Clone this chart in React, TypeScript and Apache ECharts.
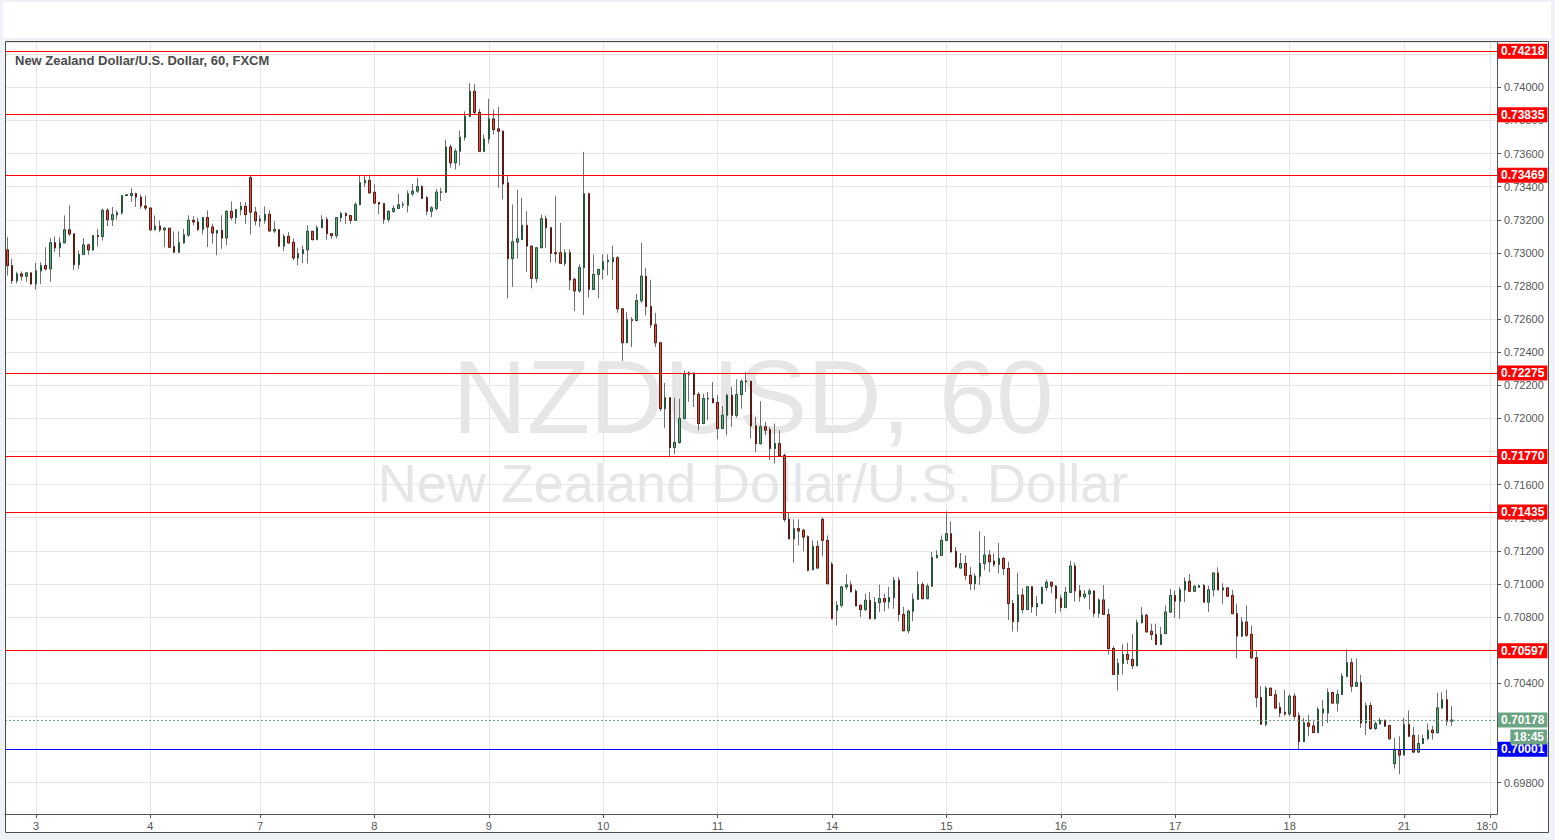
import React, { useEffect, useRef } from 'react';
import * as echarts from 'echarts';

// Hourly NZD/USD candles, each [open, close, low, high], grouped by trading day
const pre3 = [
  [0.73018,0.72923,0.72863,0.73095],[0.72923,0.72832,0.72812,0.72964],[0.72832,0.72873,0.72816,0.72887],
  [0.72873,0.72859,0.72832,0.72887],[0.72859,0.72879,0.72826,0.72883],[0.72879,0.72812,0.7281,0.72883],
];
const day3 = [
  [0.72812,0.72891,0.72778,0.72939],[0.72891,0.72923,0.72812,0.72943],[0.72923,0.72903,0.72893,0.73034],
  [0.72903,0.73061,0.72826,0.73089],[0.73061,0.7303,0.73004,0.73101],[0.7303,0.73061,0.72974,0.73095],
  [0.73061,0.73139,0.73061,0.73226],[0.73139,0.73115,0.73101,0.73287],[0.73115,0.72929,0.72897,0.73115],
  [0.72929,0.7299,0.72903,0.73014],[0.7299,0.73048,0.72988,0.73089],[0.73048,0.73018,0.72988,0.73055],
  [0.73018,0.73105,0.73014,0.73105],[0.73105,0.73099,0.73038,0.73145],[0.73099,0.73257,0.73075,0.73267],
  [0.73257,0.732,0.73162,0.73271],[0.732,0.7323,0.73162,0.73277],[0.7323,0.73242,0.73202,0.73257],
  [0.73242,0.73347,0.7323,0.73347],[0.73347,0.73351,0.73343,0.73355],[0.73347,0.73358,0.73307,0.73392],
  [0.73358,0.73337,0.73277,0.73364],[0.73337,0.73283,0.73267,0.73351],[0.73283,0.73271,0.73257,0.73347],
];
const day4 = [
  [0.73271,0.73139,0.73139,0.73271],[0.73139,0.73162,0.73139,0.73226],[0.73162,0.73139,0.73125,0.73196],
  [0.73139,0.73149,0.73034,0.73156],[0.73149,0.73034,0.73034,0.73149],[0.73038,0.73004,0.73,0.73129],
  [0.73004,0.73061,0.73004,0.73129],[0.73061,0.73109,0.73055,0.73145],[0.73108,0.73197,0.73096,0.73227],
  [0.73197,0.73187,0.73166,0.73221],[0.73187,0.73142,0.73132,0.73213],[0.73142,0.73213,0.73112,0.73217],
  [0.73213,0.73156,0.73035,0.73257],[0.73156,0.7312,0.73056,0.73176],[0.7312,0.73136,0.72985,0.73136],
  [0.73136,0.7309,0.73025,0.73227],[0.7309,0.73251,0.73046,0.73257],[0.73251,0.73213,0.73197,0.73311],
  [0.73213,0.73261,0.73176,0.73261],[0.73261,0.73281,0.73227,0.73307],[0.73281,0.73231,0.73176,0.73307],
  [0.73454,0.73246,0.73112,0.73466],[0.73246,0.73193,0.73166,0.73277],
];
const day7 = [
  [0.73193,0.73203,0.73156,0.73227],[0.73197,0.73233,0.73176,0.73281],[0.73233,0.73132,0.73132,0.73257],
  [0.73132,0.73142,0.7312,0.73191],[0.7314,0.73041,0.73035,0.7314],[0.73041,0.731,0.73011,0.73112],
  [0.731,0.7306,0.73056,0.73126],[0.73064,0.72969,0.72955,0.73086],[0.72969,0.72995,0.72925,0.73031],
  [0.72995,0.73019,0.72939,0.73045],[0.73019,0.7313,0.72935,0.73166],[0.7313,0.7308,0.73076,0.7313],
  [0.7308,0.73152,0.7308,0.73166],[0.73152,0.73201,0.73152,0.73227],[0.73201,0.73116,0.7308,0.73217],
  [0.73116,0.73104,0.73086,0.73116],[0.73104,0.73213,0.73088,0.73217],[0.73213,0.73237,0.73187,0.73247],
  [0.73237,0.73225,0.73176,0.73247],[0.73225,0.73197,0.73176,0.73225],[0.73197,0.73291,0.73197,0.73307],
  [0.73291,0.73424,0.73291,0.73472],[0.73424,0.73438,0.73398,0.73472],[0.73438,0.73362,0.73362,0.73472],
];
const day8 = [
  [0.73366,0.73301,0.73297,0.73414],[0.73305,0.73295,0.73233,0.73305],[0.73297,0.73203,0.73176,0.73297],
  [0.73203,0.73251,0.73187,0.73257],[0.73251,0.73269,0.73241,0.73287],[0.73269,0.7329,0.73267,0.73357],
  [0.7329,0.73292,0.73272,0.73309],[0.73288,0.73357,0.73244,0.73377],[0.73357,0.73373,0.73343,0.73417],
  [0.73373,0.734,0.73363,0.73453],[0.734,0.73329,0.73329,0.73409],[0.73333,0.73252,0.73228,0.73343],
  [0.73252,0.73272,0.73216,0.73282],[0.73268,0.73367,0.73256,0.73387],[0.73365,0.73369,0.73313,0.73393],
  [0.73367,0.7364,0.73363,0.73684],[0.7364,0.73544,0.73514,0.73654],[0.73544,0.73614,0.73504,0.7363],
  [0.73614,0.73698,0.73528,0.73739],[0.73698,0.73825,0.73678,0.73855],[0.73825,0.73976,0.73819,0.74026],
  [0.73976,0.73849,0.73839,0.7402],[0.73849,0.73614,0.73614,0.73869],[0.73614,0.73688,0.73614,0.73715],
];
const day9 = [
  [0.73688,0.73809,0.7366,0.7393],[0.73809,0.73745,0.73715,0.73865],[0.73749,0.73735,0.73393,0.73881],
  [0.73735,0.73417,0.73323,0.73739],[0.73423,0.72965,0.72724,0.7347],[0.72965,0.73067,0.72794,0.73292],
  [0.73065,0.73085,0.72965,0.73381],[0.73081,0.73166,0.73077,0.73333],[0.73166,0.73041,0.72884,0.73252],
  [0.73041,0.72846,0.72786,0.73041],[0.72846,0.73031,0.7282,0.73031],[0.73031,0.73206,0.73031,0.73232],
  [0.73206,0.73152,0.73031,0.73226],[0.73152,0.72997,0.72941,0.73152],[0.73001,0.72995,0.72941,0.73343],
  [0.73001,0.72937,0.72937,0.73181],[0.72937,0.73001,0.72921,0.73021],[0.73001,0.72836,0.72776,0.73021],
  [0.7284,0.7277,0.72649,0.7285],[0.7277,0.72911,0.7276,0.72931],[0.72911,0.73357,0.72625,0.7361],
  [0.73357,0.7278,0.7273,0.73363],[0.7278,0.7287,0.72774,0.72991],[0.7287,0.729,0.72725,0.729],
];
const day10 = [
  [0.729,0.72947,0.7284,0.72991],[0.72947,0.72955,0.72865,0.72991],[0.72947,0.7297,0.72837,0.73044],
  [0.7297,0.72662,0.72638,0.7298],[0.72662,0.72457,0.72347,0.72662],[0.72457,0.72596,0.72457,0.72642],
  [0.72596,0.72592,0.72431,0.72612],[0.72592,0.72711,0.72586,0.72753],[0.72711,0.72859,0.72697,0.7306],
  [0.72859,0.72676,0.72622,0.72909],[0.72676,0.72566,0.72546,0.72837],[0.72566,0.72457,0.72431,0.72638],
  [0.72457,0.72059,0.72043,0.72457],[0.72059,0.72125,0.71943,0.72214],[0.72125,0.71824,0.71764,0.72125],
  [0.71824,0.71854,0.71784,0.72125],[0.71854,0.72,0.71848,0.72119],[0.72,0.72264,0.71994,0.7229],
  [0.72264,0.72274,0.721,0.72284],[0.72274,0.72144,0.72069,0.72274],[0.72144,0.71969,0.71929,0.7216],
  [0.71969,0.7212,0.71965,0.7215],[0.72118,0.72122,0.71989,0.7216],[0.7212,0.72096,0.7209,0.7222],
];
const day11 = [
  [0.72096,0.71939,0.71874,0.7214],[0.71939,0.72019,0.71935,0.72075],[0.72019,0.7214,0.71898,0.7215],
  [0.7214,0.72019,0.71949,0.7219],[0.72019,0.72144,0.72005,0.72236],[0.72144,0.72224,0.72059,0.72236],
  [0.72226,0.72222,0.7216,0.7228],[0.72224,0.71955,0.71878,0.72224],[0.71955,0.71848,0.71798,0.72009],
  [0.71848,0.71949,0.71842,0.72104],[0.71949,0.71929,0.71899,0.71979],[0.71933,0.71818,0.71748,0.71949],
  [0.71818,0.71848,0.71728,0.71969],[0.71848,0.71774,0.71768,0.71929],[0.71776,0.7139,0.71374,0.71786],
  [0.7139,0.71273,0.71269,0.71434],[0.71273,0.71334,0.71129,0.7139],[0.71334,0.7132,0.71233,0.7139],
  [0.71324,0.71283,0.71197,0.71334],[0.71287,0.71082,0.71076,0.71293],[0.71086,0.71227,0.71082,0.71263],
  [0.71227,0.71096,0.71092,0.71263],[0.7139,0.71263,0.71167,0.71404],[0.71263,0.71002,0.70996,0.71293],
];
const day14 = [
  [0.71119,0.7079,0.70786,0.71133],[0.70841,0.70871,0.7075,0.70897],[0.70871,0.70982,0.70857,0.70988],
  [0.70982,0.70994,0.70966,0.71058],[0.70994,0.70952,0.70952,0.71018],[0.70956,0.70867,0.70867,0.70968],
  [0.70871,0.70845,0.70801,0.70875],[0.70845,0.70901,0.70837,0.70942],[0.70901,0.7079,0.70786,0.70952],
  [0.7079,0.70887,0.70786,0.70921],[0.70887,0.70911,0.70831,0.70996],[0.70911,0.70891,0.70835,0.70942],
  [0.70891,0.70917,0.70851,0.70982],[0.70917,0.71022,0.70851,0.71042],[0.71022,0.70815,0.70775,0.71042],
  [0.70815,0.70717,0.70717,0.70861],[0.70717,0.70835,0.70701,0.70845],[0.70835,0.70907,0.70775,0.70942],
  [0.70907,0.70996,0.70901,0.71076],[0.70996,0.70911,0.70907,0.71012],[0.70911,0.70986,0.70907,0.71002],
  [0.70986,0.71159,0.70982,0.71193],[0.71159,0.71173,0.71153,0.71203],[0.71173,0.71263,0.71169,0.71293],
];
const day15 = [
  [0.71263,0.71303,0.71263,0.71438],[0.71303,0.71193,0.71193,0.71378],[0.71197,0.71103,0.71096,0.71223],
  [0.71096,0.71123,0.71092,0.71187],[0.71123,0.71052,0.71022,0.71173],[0.71052,0.71002,0.70962,0.71103],
  [0.71002,0.71047,0.70963,0.71063],[0.71047,0.71124,0.70993,0.71319],[0.71124,0.71174,0.71083,0.71289],
  [0.71174,0.71134,0.7107,0.71204],[0.71138,0.71118,0.71104,0.71184],[0.71118,0.71154,0.71063,0.71248],
  [0.71154,0.71093,0.71053,0.71164],[0.71093,0.70882,0.70782,0.71134],[0.70882,0.70772,0.70712,0.70903],
  [0.70772,0.70933,0.70712,0.71067],[0.70933,0.70846,0.70822,0.70973],[0.70846,0.70983,0.70842,0.70987],
  [0.70983,0.70862,0.70826,0.70987],[0.70862,0.70882,0.70806,0.70927],[0.70882,0.70979,0.70878,0.70983],
  [0.70979,0.7101,0.70959,0.71027],[0.7101,0.70987,0.70943,0.71014],[0.70987,0.70913,0.70822,0.70993],
];
const day16 = [
  [0.70913,0.70858,0.70832,0.70933],[0.70858,0.70949,0.70852,0.70983],[0.70949,0.71108,0.70947,0.7114],
  [0.71108,0.70959,0.70893,0.71128],[0.70959,0.70923,0.70893,0.70993],[0.70923,0.70939,0.70909,0.70963],
  [0.70939,0.70957,0.70846,0.70973],[0.70957,0.70822,0.708,0.70963],[0.70822,0.70903,0.70796,0.70913],
  [0.70903,0.70816,0.70812,0.70993],[0.70814,0.7061,0.70574,0.7085],[0.7061,0.70454,0.7045,0.70624],
  [0.70454,0.7052,0.70356,0.7055],[0.7052,0.70574,0.70454,0.70636],[0.70574,0.70544,0.70516,0.70644],
  [0.70544,0.70506,0.70486,0.70696],[0.70506,0.70766,0.70502,0.70784],[0.70766,0.7081,0.7076,0.7086],
  [0.7081,0.7071,0.70706,0.7082],[0.70714,0.70694,0.7066,0.7076],[0.70694,0.70634,0.7063,0.7076],
  [0.70634,0.70694,0.7063,0.7074],[0.707,0.7083,0.707,0.7087],[0.7083,0.7093,0.70826,0.7097],
];
const day17 = [
  [0.7093,0.70896,0.70796,0.7096],[0.70896,0.70964,0.7079,0.7098],[0.70964,0.71016,0.7089,0.7104],
  [0.71016,0.70956,0.70956,0.7106],[0.70956,0.70984,0.70956,0.70996],[0.7098,0.7099,0.7098,0.70996],
  [0.7099,0.7089,0.7089,0.71],[0.7089,0.70964,0.7083,0.7099],[0.70964,0.71066,0.70924,0.71066],
  [0.71066,0.70964,0.7096,0.711],[0.70964,0.70976,0.7088,0.71004],[0.70976,0.70926,0.7092,0.70976],
  [0.7093,0.7082,0.7082,0.70964],[0.7082,0.70685,0.7055,0.7088],[0.70685,0.7077,0.7068,0.708],
  [0.7077,0.7069,0.7068,0.7087],[0.70696,0.70553,0.70553,0.7075],[0.70555,0.70314,0.70254,0.706],
  [0.70314,0.70152,0.70152,0.70382],[0.70152,0.7037,0.70138,0.70382],[0.7037,0.70326,0.70322,0.7037],
  [0.7033,0.7025,0.7025,0.7036],[0.70254,0.7022,0.70194,0.70284],[0.70224,0.70214,0.70204,0.7036],
];
const day18 = [
  [0.70214,0.70322,0.702,0.70334],[0.70322,0.702,0.7018,0.7034],[0.70204,0.70048,0.70001,0.70224],
  [0.70048,0.7016,0.70044,0.7019],[0.7016,0.7014,0.7008,0.7021],[0.70142,0.70102,0.70102,0.7018],
  [0.70102,0.70242,0.701,0.70258],[0.7022,0.70244,0.7014,0.703],[0.7022,0.70344,0.7016,0.70368],
  [0.70344,0.7028,0.7028,0.7035],[0.7028,0.70332,0.7023,0.7036],[0.70332,0.70442,0.70328,0.7046],
  [0.70442,0.70524,0.70434,0.70604],[0.70524,0.70382,0.70348,0.7055],[0.70382,0.70404,0.70382,0.7055],
  [0.70404,0.7016,0.7013,0.7045],[0.70161,0.70265,0.70087,0.70285],[0.70265,0.70127,0.70117,0.70285],
  [0.70127,0.70155,0.70117,0.70171],[0.70155,0.70175,0.70149,0.70191],[0.70175,0.70141,0.70135,0.70181],
  [0.70145,0.70064,0.70064,0.70145],[0.69914,0.69994,0.69884,0.7007],[0.69994,0.69966,0.6985,0.7008],
];
const day21 = [
  [0.69966,0.70151,0.69966,0.70191],[0.70151,0.7008,0.70076,0.70235],[0.70084,0.69984,0.69984,0.70137],
  [0.69984,0.70036,0.6998,0.7009],[0.70036,0.70066,0.70032,0.7009],[0.70066,0.70115,0.70056,0.70157],
  [0.70117,0.70101,0.7006,0.70143],[0.70101,0.70251,0.70101,0.70342],[0.70251,0.703,0.70245,0.70346],
  [0.703,0.70171,0.70145,0.70362],[0.70171,0.70178,0.70141,0.70261],
];

const dayLabels = ['2', '3', '4', '7', '8', '9', '10', '11', '14', '15', '16', '17', '18', '21'];
const firstHours = [18, 0, 0, 0, 0, 0, 0, 0, 0, 0, 0, 0, 0, 0];
const futureHours = 9; // empty hourly slots after the last candle
const endTimeLabel = '21 18:00';

const redLevels = [0.74218, 0.73835, 0.73469, 0.72275, 0.7177, 0.71435, 0.70597];
const blueLevels = [0.70001];
const lastPrice = 0.70178;
const countdownText = '18:45';
const titleText = 'New Zealand Dollar/U.S. Dollar, 60, FXCM';
const watermarkSymbol = 'NZDUSD, 60';
const watermarkName = 'New Zealand Dollar/U.S. Dollar';

const FONT = '"Liberation Sans", Arial, sans-serif';
const UP = '#6ba583';
const DOWN = '#d75442';

export default function App() {
  const ref = useRef<HTMLDivElement>(null);

  useEffect(() => {
    document.body.style.margin = '0';
    if (!ref.current) return;
    const chart = echarts.init(ref.current, undefined, { renderer: 'svg' });

    const sessions = [pre3, day3, day4, day7, day8, day9, day10, day11, day14, day15, day16, day17, day18, day21];
    const categories: string[] = [];
    const candles: number[][] = [];
    sessions.forEach((bars, d) => {
      const n = d === sessions.length - 1 ? bars.length + futureHours : bars.length;
      for (let i = 0; i < n; i++) {
        const h = firstHours[d] + i;
        categories.push(`${dayLabels[d]} ${String(h).padStart(2, '0')}:00`);
      }
      bars.forEach((b) => candles.push(b));
    });
    const bodies = candles.map(([o, c]) => [o, c, Math.min(o, c), Math.max(o, c)]);
    const tickSet = new Set(categories.filter((c) => c.endsWith(' 00:00') || c === endTimeLabel));
    const isTick = (i: number) => tickSet.has(categories[i]);
    const tagValues = [...redLevels, ...blueLevels, lastPrice];
    // axis labels that sit fully under a price tag are hidden, as on the original
    const coveredByTag = (v: number) => tagValues.some((t) => Math.abs(t - v) <= 0.00031);

    const tag = (bg: string) => ({
      show: true,
      position: 'end',
      distance: 1,
      formatter: (p: any) => Number(p.value).toFixed(5),
      color: '#fff',
      backgroundColor: bg,
      padding: [2, 3, 1, 3],
      fontSize: 12,
      lineHeight: 12,
      fontWeight: 'bold',
      fontFamily: FONT,
    });

    const option: any = {
      animation: false,
      backgroundColor: '#eff2f6',
      grid: { left: 5, right: 58, top: 42, bottom: 26, containLabel: false },
      xAxis: {
        type: 'category',
        data: categories,
        boundaryGap: true,
        axisLine: { lineStyle: { color: '#555' } },
        axisTick: { show: true, alignWithLabel: true, interval: isTick, length: 4, lineStyle: { color: '#555' } },
        axisLabel: {
          interval: isTick,
          color: '#555',
          fontSize: 11,
          fontFamily: FONT,
          margin: 6,
          formatter: (v: string) => (v === endTimeLabel ? '{e|18:0}' : v.split(' ')[0]),
          rich: { e: { color: '#555', fontSize: 11, fontFamily: FONT, padding: [0, 6, 0, 0] } },
        },
        splitLine: { show: false },
      },
      yAxis: {
        type: 'value',
        position: 'right',
        min: 0.6961,
        max: 0.74274,
        splitNumber: 23,
        scale: true,
        axisLine: { show: true, lineStyle: { color: '#555' } },
        axisTick: { show: true, length: 4, lineStyle: { color: '#555' } },
        axisLabel: {
          color: '#555',
          fontSize: 11,
          fontFamily: FONT,
          margin: 7,
          showMinLabel: false,
          showMaxLabel: false,
          formatter: (v: number) => (coveredByTag(v) ? '' : v.toFixed(5)),
        },
        splitLine: { show: true, lineStyle: { color: '#e6e6e6', width: 1 } },
      },
      series: [
        {
          type: 'candlestick',
          name: 'wicks',
          data: candles,
          barWidth: 2,
          silent: true,
          itemStyle: { color: '#707070', color0: '#707070', borderColor: '#707070', borderColor0: '#707070', borderWidth: 1 },
          markLine: {
            silent: true,
            symbol: 'none',
            z: 1,
            label: { show: false },
            lineStyle: { color: '#e6e6e6', width: 1, type: 'solid' },
            data: categories.filter((c) => tickSet.has(c)).map((c) => ({ xAxis: c })),
          },
        },
        {
          type: 'candlestick',
          name: 'NZDUSD',
          data: bodies,
          barWidth: 2,
          silent: true,
          itemStyle: { color: UP, color0: DOWN, borderColor: '#225437', borderColor0: '#5b1a13', borderWidth: 1 },
          markLine: {
            silent: true,
            symbol: 'none',
            precision: 5,
            data: [
              ...redLevels.map((v) => ({ yAxis: v, lineStyle: { color: '#ff0000', width: 1, type: 'solid' }, label: tag('#ff0000') })),
              ...blueLevels.map((v) => ({ yAxis: v, lineStyle: { color: '#0000ff', width: 1, type: 'solid' }, label: tag('#0000ff') })),
              { yAxis: lastPrice, lineStyle: { color: UP, width: 1, type: [2, 2] }, label: tag(UP) },
            ],
          },
        },
      ],
      graphic: [
        { type: 'rect', z: -20, silent: true, shape: { x: 3, y: 2, width: 1548, height: 36 }, style: { fill: '#ffffff' } },
        { type: 'rect', z: -20, silent: true, shape: { x: 5, y: 41, width: 1544, height: 792 }, style: { fill: '#ffffff' } },
        {
          type: 'text', z: -10, silent: true,
          style: { text: watermarkSymbol, x: 753, y: 397, align: 'center', verticalAlign: 'middle', fill: '#e6e6e6', font: `103px ${FONT}` },
        },
        {
          type: 'text', z: -10, silent: true,
          style: { text: watermarkName, x: 753, y: 483, align: 'center', verticalAlign: 'middle', fill: '#e6e6e6', font: `54px ${FONT}` },
        },
        {
          type: 'text', z: 20, silent: true,
          style: { text: titleText, x: 15, y: 60, verticalAlign: 'middle', fill: '#4a4a4a', font: `bold 13px ${FONT}` },
        },
        {
          type: 'rect', z: 20, silent: true,
          shape: { x: 5.5, y: 41.5, width: 1543, height: 791 },
          style: { fill: 'none', stroke: '#4b4b4b', lineWidth: 1 },
        },
        {
          type: 'text', z: 20, silent: true,
          style: {
            text: countdownText, x: 1547, y: 737, align: 'right', verticalAlign: 'middle',
            fill: '#fff', font: `bold 12px ${FONT}`, backgroundColor: UP, padding: [2, 3, 1, 3],
          },
        },
      ],
    };

    chart.setOption(option);
    return () => chart.dispose();
  }, []);

  return <div ref={ref} style={{ width: 1555, height: 840 }} />;
}
